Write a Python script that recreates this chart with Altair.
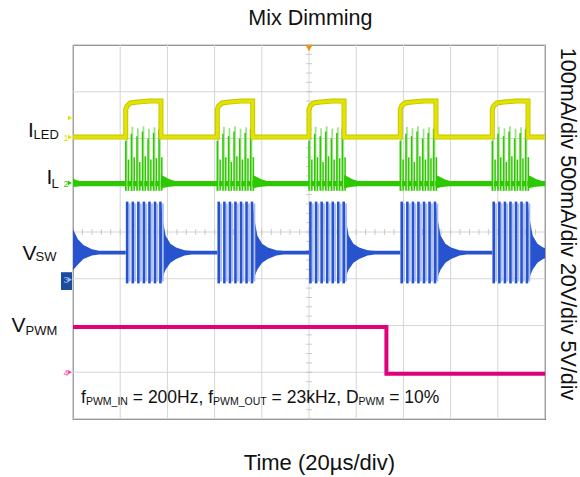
import altair as alt
import pandas as pd

# ---- coordinate system: time in divisions (20 us/div, 0..10), amplitude in divisions (0 bottom .. 8 top)
BURST_START = [1.117, 3.057, 5.000, 6.934, 8.883]
BURST_END = [1.864, 3.807, 5.742, 7.690, 9.640]

# I_LED (ch1)
ILED_LOW = 6.03
ILED_RISE_DT = [0.0, 0.03, 0.10, 0.25, 0.50]
ILED_RISE_VAL = [6.62, 6.70, 6.76, 6.78, 6.80]
ILED_END_VAL = 6.80

# switching cycles inside each burst (offset from burst start)
SW_DT = [0.030, 0.150, 0.268, 0.385, 0.503, 0.620, 0.735]

# I_L (ch2)
IL_PEAK_DARK = [5.95, 6.10, 6.05, 6.15, 6.00, 6.12, 6.20]
IL_PEAK_LIGHT = [6.20, 6.25, 6.22, 6.26, 6.21, 6.24, 6.27]
IL_PEAK_SHORT = [5.55, 5.60, 5.50, 5.62, 5.55, 5.58, 5.60]
IL_TROUGH = 4.88
IL_BAND_LO, IL_BAND_HI = 4.98, 5.09
IL_LEFT_T = [0.0, 0.06, 0.15]
IL_LEFT_HI = [5.15, 5.11, 5.09]
IL_LEFT_LO = [4.96, 4.97, 4.98]
IL_RING_DT = [0.0, 0.08, 0.18, 0.30]
IL_RING_HI = [5.22, 5.18, 5.13, 5.09]
IL_RING_LO = [4.93, 4.95, 4.97, 4.98]

# V_SW (ch3)
VSW_TOP, VSW_BOT = 4.65, 2.90
VSW_BAND_LO, VSW_BAND_HI = 3.52, 3.60
VSW_LEFT_T = [0.0, 0.10, 0.22, 0.40, 0.55]
VSW_LEFT_HI = [4.06, 3.85, 3.72, 3.63, 3.60]
VSW_LEFT_LO = [3.18, 3.30, 3.42, 3.50, 3.52]
VSW_RING_DT = [0.0, 0.04, 0.10, 0.20, 0.32, 0.50, 0.65]
VSW_RING_HI = [4.60, 4.25, 3.92, 3.75, 3.67, 3.61, 3.60]
VSW_RING_LO = [2.95, 3.05, 3.20, 3.34, 3.42, 3.50, 3.52]

# V_PWM (ch4)
VPWM_T = [0.0, 6.64, 6.64, 10.0]
VPWM_V = [1.97, 1.97, 0.97, 0.97]

GRID_X = list(range(11))
GRID_Y = list(range(9))
MINOR_X = [i / 5 for i in range(51)]
MINOR_Y = [i / 5 for i in range(41)]

FONT = "Liberation Sans"
YELLOW = "#e3e300"
DYELLOW = "#c4c400"
GREEN = "#2ec800"
LGREEN = "#9fe388"
BLUE = "#2753cf"
LBLUE = "#a9bdf0"
PINK = "#e0007b"

xs = alt.Scale(domain=[0, 10], nice=False, zero=False)
ys = alt.Scale(domain=[0, 8], nice=False, zero=False)


def X(f="t"):
    return alt.X(f"{f}:Q", scale=xs, axis=None)


def Y(f="v"):
    return alt.Y(f"{f}:Q", scale=ys, axis=None)


# ---- build tables
iled = [(0.0, ILED_LOW)]
for s, e in zip(BURST_START, BURST_END):
    iled.append((s, ILED_LOW))
    iled += [(s + dt, v) for dt, v in zip(ILED_RISE_DT, ILED_RISE_VAL)]
    iled += [(e, ILED_END_VAL), (e, ILED_LOW)]
iled.append((10.0, ILED_LOW))
iled_df = pd.DataFrame([{"t": t, "v": v, "i": i} for i, (t, v) in enumerate(iled)])

il_band = [(t, h, l) for t, h, l in zip(IL_LEFT_T, IL_LEFT_HI, IL_LEFT_LO)]
for s, e in zip(BURST_START, BURST_END):
    il_band += [(s, IL_BAND_HI, IL_BAND_LO), (e - 0.002, IL_BAND_HI, IL_BAND_LO)]
    il_band += [(e + dt, h, l) for dt, h, l in zip(IL_RING_DT, IL_RING_HI, IL_RING_LO)]
il_band.append((10.0, IL_BAND_HI, IL_BAND_LO))
il_band_df = pd.DataFrame([{"t": t, "hi": h, "lo": l} for t, h, l in il_band])

il_rules = []
for s in BURST_START:
    for dt, pdk, pl, ps in zip(SW_DT, IL_PEAK_DARK, IL_PEAK_LIGHT, IL_PEAK_SHORT):
        il_rules.append({"t": s + dt - 0.01, "lo": IL_TROUGH, "hi": pl, "k": "light"})
        il_rules.append({"t": s + dt - 0.03, "lo": IL_TROUGH, "hi": pdk, "k": "dark"})
        il_rules.append({"t": s + dt + 0.03, "lo": IL_TROUGH, "hi": ps, "k": "dark"})
il_rules_df = pd.DataFrame(il_rules)

vsw_band = []
seg = 0
for t, h, l in zip(VSW_LEFT_T, VSW_LEFT_HI, VSW_LEFT_LO):
    vsw_band.append({"t": t, "hi": h, "lo": l, "seg": seg})
vsw_band.append({"t": BURST_START[0], "hi": VSW_BAND_HI, "lo": VSW_BAND_LO, "seg": seg})
for k, e in enumerate(BURST_END):
    seg = k + 1
    for dt, h, l in zip(VSW_RING_DT, VSW_RING_HI, VSW_RING_LO):
        vsw_band.append({"t": e + dt, "hi": h, "lo": l, "seg": seg})
    nxt = BURST_START[k + 1] if k + 1 < len(BURST_START) else 10.5
    vsw_band.append({"t": nxt, "hi": VSW_BAND_HI, "lo": VSW_BAND_LO, "seg": seg})
vsw_band_df = pd.DataFrame(vsw_band)

vsw_rules = []
for s in BURST_START:
    for dt in SW_DT:
        vsw_rules.append({"t": s + dt, "lo": VSW_BOT, "hi": VSW_TOP, "k": "dark"})
        vsw_rules.append({"t": s + dt + 0.05, "lo": VSW_BOT + 0.04, "hi": VSW_TOP - 0.04, "k": "light"})
vsw_rules_df = pd.DataFrame(vsw_rules)

vpwm_df = pd.DataFrame({"t": VPWM_T, "v": VPWM_V, "i": list(range(len(VPWM_T)))})

# ---- layers
grid_v = alt.Chart(pd.DataFrame({"t": GRID_X})).mark_rule(color="#d6d6d6", strokeWidth=1).encode(x=X())
grid_h = alt.Chart(pd.DataFrame({"v": GRID_Y})).mark_rule(color="#d6d6d6", strokeWidth=1).encode(y=Y())
minor_v = alt.Chart(pd.DataFrame({"v": MINOR_Y, "t": [5.0] * len(MINOR_Y)})).mark_tick(
    orient="horizontal", size=6, thickness=1, color="#b8b8b8").encode(x=X(), y=Y())
minor_h = alt.Chart(pd.DataFrame({"t": MINOR_X, "v": [4.0] * len(MINOR_X)})).mark_tick(
    orient="vertical", size=6, thickness=1, color="#b8b8b8").encode(x=X(), y=Y())

vpwm = alt.Chart(vpwm_df).mark_line(color=PINK, strokeWidth=4, strokeCap="butt", clip=True).encode(
    x=X(), y=Y(), order="i:Q")

vsw_area = alt.Chart(vsw_band_df).mark_area(color=BLUE, clip=True).encode(
    x=X(), y=Y("hi"), y2="lo:Q", detail="seg:N")
vsw_dark = alt.Chart(vsw_rules_df).transform_filter("datum.k == 'dark'").mark_rule(
    color=BLUE, strokeWidth=2.6).encode(x=X(), y=Y("hi"), y2="lo:Q")
vsw_light = alt.Chart(vsw_rules_df).transform_filter("datum.k == 'light'").mark_rule(
    color=LBLUE, strokeWidth=2).encode(x=X(), y=Y("hi"), y2="lo:Q")

il_area = alt.Chart(il_band_df).mark_area(color=GREEN, clip=True).encode(x=X(), y=Y("hi"), y2="lo:Q")
il_light = alt.Chart(il_rules_df).transform_filter("datum.k == 'light'").mark_rule(
    color=LGREEN, strokeWidth=1.8).encode(x=X(), y=Y("hi"), y2="lo:Q")
il_dark = alt.Chart(il_rules_df).transform_filter("datum.k == 'dark'").mark_rule(
    color=GREEN, strokeWidth=1.5).encode(x=X(), y=Y("hi"), y2="lo:Q")

iled_under = alt.Chart(iled_df).mark_line(color=DYELLOW, strokeWidth=5, strokeCap="butt", clip=True).encode(
    x=X(), y=Y(), order="i:Q")
iled_line = alt.Chart(iled_df).mark_line(color=YELLOW, strokeWidth=3.2, strokeCap="butt", clip=True).encode(
    x=X(), y=Y(), order="i:Q")

# trigger marker
trig = alt.Chart(pd.DataFrame({"t": [5.0], "v": [7.93]})).mark_point(
    shape="triangle-down", filled=True, color="#f39200", size=45, opacity=1).encode(x=X(), y=Y())

# channel markers
mk = pd.DataFrame([
    {"t": -0.064, "v": 6.03, "c": YELLOW},
    {"t": -0.064, "v": 6.44, "c": YELLOW},
    {"t": -0.064, "v": 5.05, "c": GREEN},
    {"t": -0.064, "v": 2.98, "c": "#9ab8ff"},
    {"t": -0.064, "v": 1.00, "c": "#ff44b0"},
])
box = alt.Chart(pd.DataFrame({"t": [-0.254], "t2": [-0.021], "v": [3.14], "v2": [2.76]})).mark_rect(
    color="#1b4b9b").encode(x=X(), x2="t2:Q", y=Y(), y2="v2:Q")
tri = alt.Chart(mk).mark_point(shape="triangle-right", filled=True, size=22, opacity=1).encode(
    x=X(), y=Y(), color=alt.Color("c:N", scale=None))
mk_txt = pd.DataFrame([
    {"t": -0.20, "v": 5.95, "s": "1", "c": YELLOW},
    {"t": -0.20, "v": 4.96, "s": "2", "c": GREEN},
    {"t": -0.20, "v": 2.90, "s": "3", "c": "#9ab8ff"},
    {"t": -0.20, "v": 0.92, "s": "4", "c": "#ff44b0"},
])
mk_text = alt.Chart(mk_txt).mark_text(font=FONT, fontSize=9, align="left", baseline="alphabetic").encode(
    x=X(), y=Y(), text="s:N", color=alt.Color("c:N", scale=None))

# text labels (left aligned)
labels = pd.DataFrame([
    {"t": -0.953, "v": 6.03, "s": "I", "fs": 21},
    {"t": -0.837, "v": 5.98, "s": "LED", "fs": 13},
    {"t": -0.561, "v": 5.03, "s": "I", "fs": 21},
    {"t": -0.455, "v": 4.94, "s": "L", "fs": 13},
    {"t": -1.070, "v": 3.40, "s": "V", "fs": 21},
    {"t": -0.794, "v": 3.37, "s": "SW", "fs": 13},
    {"t": -1.303, "v": 1.86, "s": "V", "fs": 21},
    {"t": -1.006, "v": 1.80, "s": "PWM", "fs": 13},
    {"t": 0.169, "v": 0.342, "s": "f", "fs": 17.5},
    {"t": 0.273, "v": 0.289, "s": "PWM_IN", "fs": 10.5},
    {"t": 1.267, "v": 0.342, "s": "= 200Hz, f", "fs": 17.5},
    {"t": 2.966, "v": 0.289, "s": "PWM_OUT", "fs": 10.5},
    {"t": 4.208, "v": 0.342, "s": "= 23kHz, D", "fs": 17.5},
    {"t": 6.051, "v": 0.289, "s": "PWM", "fs": 10.5},
    {"t": 6.699, "v": 0.342, "s": "= 10%", "fs": 17.5},
])
label_layer = alt.Chart(labels).mark_text(font=FONT, align="left", baseline="alphabetic", color="#111").encode(
    x=X(), y=Y(), text="s:N", size=alt.Size("fs:Q", scale=None))

centered = pd.DataFrame([
    {"t": 5.03, "v": 8.43, "s": "Mix Dimming", "fs": 21.5},
    {"t": 5.22, "v": -1.09, "s": "Time (20\u00b5s/div)", "fs": 22},
])
center_layer = alt.Chart(centered).mark_text(font=FONT, align="center", baseline="alphabetic", color="#111").encode(
    x=X(), y=Y(), text="s:N", size=alt.Size("fs:Q", scale=None))

right = alt.Chart(pd.DataFrame({"t": [10.33], "v": [4.17], "s": ["100mA/div 500mA/div 20V/div 5V/div"]})).mark_text(
    font=FONT, fontSize=21.5, angle=90, align="center", baseline="alphabetic", color="#111").encode(
    x=X(), y=Y(), text="s:N")

chart = alt.layer(
    grid_v, grid_h, minor_v, minor_h,
    vpwm, vsw_area, vsw_light, vsw_dark,
    il_area, il_light, il_dark, iled_under, iled_line,
    trig, box, tri, mk_text, label_layer, center_layer, right,
).properties(
    width=472, height=374,
    autosize=alt.AutoSizeParams(type="none"),
    padding={"left": 73, "top": 45, "right": 35, "bottom": 58},
    background="white",
).configure_view(stroke="#5a5a5a", strokeWidth=1.2)

chart.save("out.html", embed_options={"renderer": "svg", "actions": False})
